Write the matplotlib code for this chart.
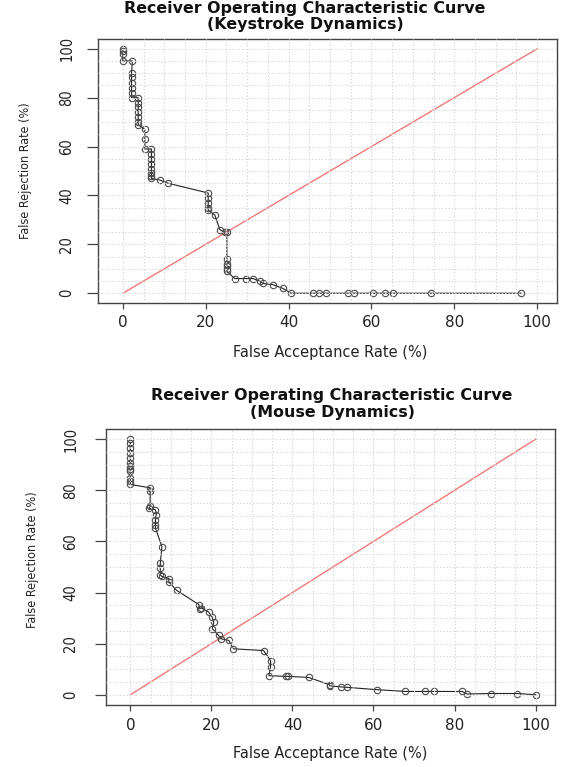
import matplotlib
matplotlib.use("Agg")
import matplotlib.pyplot as plt
import numpy as np
from matplotlib.ticker import FixedLocator

# ---------------- data ----------------
key_far = [0, 0, 0, 0, 2.3, 2.1, 2.1, 2.1, 2.1, 2.1, 2.1,
           3.7, 3.7, 3.7, 3.7, 3.7, 3.7, 3.7,
           5.3, 5.3, 5.3,
           6.9, 6.9, 6.9, 6.9, 6.9, 6.9, 6.9, 6.9,
           8.9, 10.9, 20.6, 20.6, 20.6, 20.6, 20.6,
           22.2, 23.4, 24.6, 25.1, 25.1, 25.1, 25.1, 25.1, 25.1,
           27.0, 29.8, 31.4, 33.0, 33.8, 36.2, 38.6, 40.6,
           45.8, 47.3, 49.1, 54.3, 55.7, 60.5, 63.4, 65.3, 74.3, 96.1]
key_frr = [100, 99, 98, 95, 95, 90, 88.6, 86, 84, 82, 80,
           80, 78, 76, 74, 72, 70, 69,
           67, 63, 59,
           59, 57, 55, 53, 51, 49, 48, 47,
           46.3, 45, 41, 39, 37, 35, 34,
           32, 26, 25, 25, 14, 12, 11, 10, 9,
           6, 6, 6, 5, 4, 3.5, 2, 0,
           0, 0, 0, 0, 0, 0, 0, 0, 0, 0]

mouse_far = [0, 0, 0, 0, 0, 0, 0, 0, 0, 0, 0, 0,
             4.9, 4.9, 4.9, 4.6, 6.2, 6.4, 6.2, 6.2, 6.2,
             7.8, 7.4, 7.4, 7.4, 7.8, 9.5, 9.5, 11.4,
             16.9, 17.2, 17.5, 19.3, 20.2, 20.6, 20.2,
             21.8, 22.4, 24.3, 25.4, 32.9, 34.6, 34.6, 34.2,
             38.3, 38.8, 44.0, 49.2, 49.2, 51.9, 53.5,
             60.9, 67.9, 72.8, 74.9, 81.9, 83.1, 88.9, 95.5, 100]
mouse_frr = [100, 98.4, 96.7, 94.8, 92.8, 90.8, 89.5, 88.5, 87.5, 84.9, 83.6, 82.3,
             81, 79.6, 73.7, 73.0, 72.4, 70.5, 68.5, 66.5, 65.2,
             58, 51.4, 49.5, 46.9, 46.3, 45.5, 44.2, 40.9,
             35.3, 33.7, 34.0, 32.4, 30.4, 28.4, 25.9,
             23.2, 21.9, 21.3, 18.0, 17.3, 13.4, 10.8, 7.5,
             7.2, 7.2, 6.8, 3.9, 3.5, 3.1, 2.9,
             2.0, 1.3, 1.3, 1.3, 1.3, 0.3, 0.5, 0.5, 0]

ref_x = [0, 100]
ref_y = [0, 100]
tick_vals = [0, 20, 40, 60, 80, 100]
grid_vals = list(range(0, 101, 5))

titles = [("Receiver Operating Characteristic Curve", "(Keystroke Dynamics)"),
          ("Receiver Operating Characteristic Curve", "(Mouse Dynamics)")]
xlabel = "False Acceptance Rate (%)"
ylabel = "False Rejection Rate (%)"

# ---------------- figure ----------------
W, H = 567, 767
fig = plt.figure(figsize=(W / 100, H / 100), dpi=100)


def px_axes(left, right, top, bottom):
    return fig.add_axes([left / W, (H - bottom) / H, (right - left) / W, (bottom - top) / H])


panels = [
    dict(box=(98, 557, 39, 303), far=key_far, frr=key_frr, title=titles[0],
         tcx=305, ty1=8, ty2=24, ylab_x=-0.159, ylab_y=0.5, xlab_y=-0.186, xlab_x=0.505, ypad=9),
    dict(box=(106, 555, 429, 705), far=mouse_far, frr=mouse_frr, title=titles[1],
         tcx=332, ty1=395, ty2=412, ylab_x=-0.1626, ylab_y=0.525, xlab_y=-0.174, xlab_x=0.499, ypad=12),
]

for p in panels:
    ax = px_axes(*p["box"])
    ax.set_xlim(-6, 104.8)
    ax.set_ylim(-4, 104)
    ax.set_axisbelow(False)

    ax.xaxis.set_major_locator(FixedLocator(tick_vals))
    ax.yaxis.set_major_locator(FixedLocator(tick_vals))
    ax.xaxis.set_minor_locator(FixedLocator(grid_vals))
    ax.yaxis.set_minor_locator(FixedLocator(grid_vals))
    ax.grid(True, which="both", linestyle=(0, (1.2, 1.8)), color="#d6d6d6", linewidth=0.8)
    ax.tick_params(which="minor", length=0)
    ax.tick_params(axis="x", which="major", length=4, width=0.9, color="#444444",
                   labelsize=11, labelcolor="#222222", pad=5)
    ax.tick_params(axis="y", which="major", length=8, width=0.9, color="#444444",
                   labelsize=10.5, labelcolor="#222222", pad=p["ypad"])
    for lab in ax.get_yticklabels():
        lab.set_rotation(90)
        lab.set_va("center")
        lab.set_family("DejaVu Sans")
        lab.set_fontstretch("condensed")
    for lab in ax.get_xticklabels():
        lab.set_family("DejaVu Sans")

    for s in ax.spines.values():
        s.set_color("#444444")
        s.set_linewidth(1.0)

    ax.plot(ref_x, ref_y, color="#f27878", lw=1.0, zorder=1.5)
    ax.plot(p["far"], p["frr"], color="#222222", lw=0.8, zorder=2)
    ax.plot(p["far"], p["frr"], linestyle="none", marker="o", markersize=4.6,
            markerfacecolor="none", markeredgecolor="#4a4a4a", markeredgewidth=0.8, zorder=2.2)

    ax.set_xlabel(xlabel, fontsize=10.5, family="DejaVu Sans", color="#222222")
    ax.xaxis.set_label_coords(p["xlab_x"], p["xlab_y"])
    ax.xaxis.label.set_va("center")
    ax.set_ylabel(ylabel, fontsize=9, family="DejaVu Sans", fontstretch="condensed", color="#222222")
    ax.yaxis.set_label_coords(p["ylab_x"], p["ylab_y"])
    ax.yaxis.label.set_va("center")

    l1, l2 = p["title"]
    fig.text(p["tcx"] / W, 1 - p["ty1"] / H, l1, ha="center", va="center",
             fontsize=11.4, fontweight="bold", family="DejaVu Sans", color="#111111")
    fig.text(p["tcx"] / W, 1 - p["ty2"] / H, l2, ha="center", va="center",
             fontsize=11.4, fontweight="bold", family="DejaVu Sans", color="#111111")

fig.savefig("out.png", dpi=100)
